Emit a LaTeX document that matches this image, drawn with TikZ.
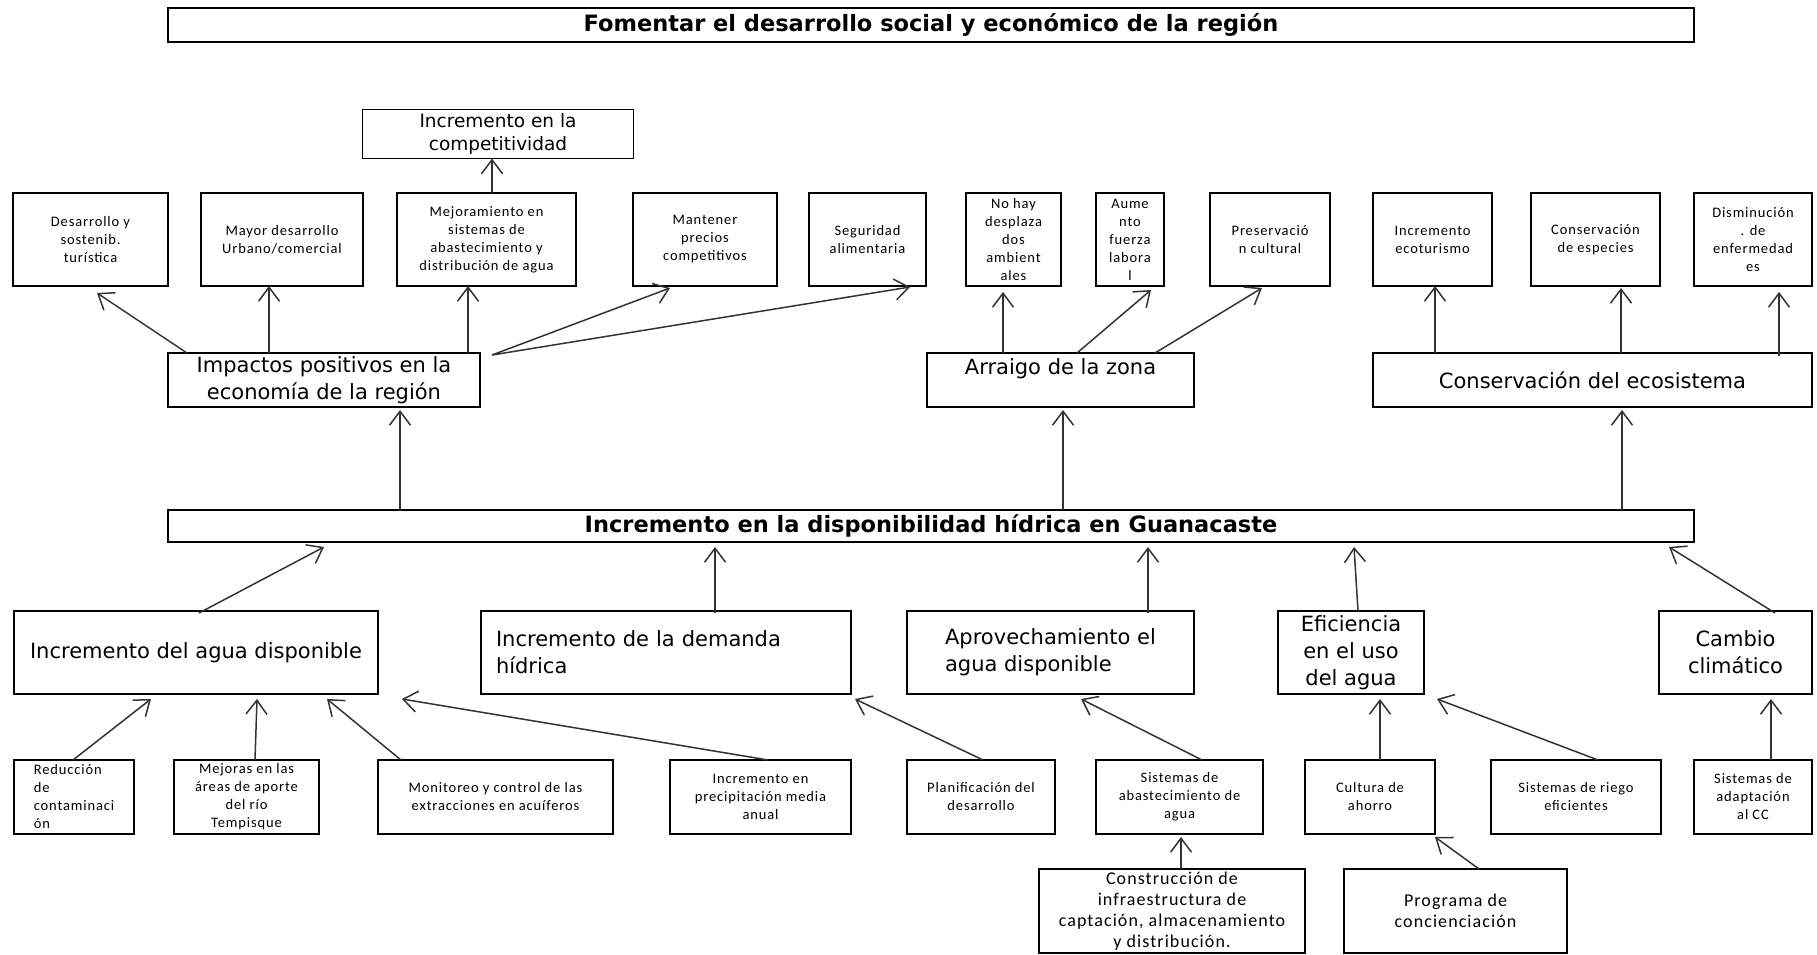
\documentclass[tikz,border=0pt]{standalone}
\usepackage{fontspec}
\setmainfont{DejaVu Sans}
\newfontfamily\chica[LetterSpace=6]{Carlito}
\usetikzlibrary{arrows.meta}

\begin{document}
\begin{tikzpicture}[x=1pt, y=-1pt,
  caja/.style={draw, line width=1.4pt, inner sep=0pt, outer sep=0pt, align=center},
  titulo/.style={caja, font=\bfseries\fontsize{22.5}{26}\selectfont, minimum width=1526pt},
  grande/.style={caja, font=\fontsize{21}{27}\selectfont},
  chica/.style={caja, font=\chica\fontsize{14.5}{18}\selectfont},
  media/.style={caja, font=\chica\fontsize{18}{21}\selectfont, minimum height=84pt},
  arriba/.style={chica, minimum height=93pt},
  abajo/.style={chica, minimum height=74pt},
  flecha/.style={draw=black!80, line width=1.5pt, -{Straight Barb[length=14pt,width=21pt]}}]
\useasboundingbox (0,0) rectangle (1817,955);

% objetivo
\node[titulo, minimum height=34pt] (fomentar) at (931,25) {Fomentar el desarrollo social y económico de la región};
\node[caja, font=\fontsize{18.5}{23}\selectfont, minimum width=271pt, minimum height=49pt] (competitividad) at (498,134) {Incremento en la\\competitividad};

% fines
\node[arriba, minimum width=155pt] (desarrollo) at (90.5,239.5) {Desarrollo y\\sostenib.\\turística};
\node[arriba, minimum width=162pt] (mayor) at (282,239.5) {Mayor desarrollo\\Urbano/comercial};
\node[arriba, minimum width=179pt] (mejoramiento) at (486.5,239.5) {Mejoramiento en\\sistemas de\\abastecimiento y\\distribución de agua};
\node[arriba, minimum width=144pt] (precios) at (705,239.5) {Mantener\\precios\\competitivos};
\node[arriba, minimum width=117pt] (seguridad) at (867.5,239.5) {Seguridad\\alimentaria};
\node[arriba, minimum width=95pt] (desplazados) at (1013.5,239.5) {No hay\\desplaza\\dos\\ambient\\ales};
\node[arriba, minimum width=68pt] (fuerza) at (1130,239.5) {Aume\\nto\\fuerza\\labora\\l};
\node[arriba, minimum width=120pt] (cultural) at (1270,239.5) {Preservació\\n cultural};
\node[arriba, minimum width=119pt] (ecoturismo) at (1432.5,239.5) {Incremento\\ecoturismo};
\node[arriba, minimum width=129pt] (especies) at (1595.5,239.5) {Conservación\\de especies};
\node[arriba, minimum width=118pt] (enfermedades) at (1753,239.5) {Disminución\\. de\\enfermedad\\es};

\node[grande, minimum width=312pt, minimum height=54pt] (impactos) at (324,380) {Impactos positivos en la\\economía de la región};
\node[grande, minimum width=267pt, minimum height=54pt] (arraigo) at (1060.5,380) {Arraigo de la zona\\\mbox{}};
\node[grande, minimum width=439pt, minimum height=54pt] (ecosistema) at (1592.5,380) {Conservación del ecosistema};

% problema central
\node[titulo, minimum height=32pt] (disponibilidad) at (931,526) {Incremento en la disponibilidad hídrica en Guanacaste};

% causas
\node[grande, minimum width=364pt, minimum height=83pt] (agua) at (196,652.5) {Incremento del agua disponible};
\node[grande, align=left, text width=340pt, inner xsep=15pt, minimum height=83pt] (demanda) at (666,652.5) {Incremento de la demanda\\hídrica};
\node[grande, align=left, minimum width=287pt, minimum height=83pt] (aprovechamiento) at (1050.5,652.5) {Aprovechamiento el\\agua disponible};
\node[grande, minimum width=146pt, minimum height=83pt] (eficiencia) at (1351,652.5) {Eficiencia\\en el uso\\del agua};
\node[grande, minimum width=153pt, minimum height=83pt] (cambio) at (1735.5,652.5) {Cambio\\climático};

\node[abajo, align=left, minimum width=120pt] (reduccion) at (74,797) {Reducción\\de\\contaminaci\\ón};
\node[abajo, minimum width=145pt] (mejoras) at (246.5,797) {Mejoras en las\\áreas de aporte\\del río\\Tempisque};
\node[abajo, minimum width=235pt] (monitoreo) at (495.5,797) {Monitoreo y control de las\\extracciones en acuíferos};
\node[abajo, minimum width=181pt] (precipitacion) at (760.5,797) {Incremento en\\precipitación media\\anual};
\node[abajo, minimum width=148pt] (planificacion) at (981,797) {Planificación del\\desarrollo};
\node[abajo, minimum width=167pt] (abastecimiento) at (1179.5,797) {Sistemas de\\abastecimiento de\\agua};
\node[abajo, minimum width=130pt] (ahorro) at (1370,797) {Cultura de\\ahorro};
\node[abajo, minimum width=170pt] (riego) at (1576,797) {Sistemas de riego\\eficientes};
\node[abajo, minimum width=118pt] (adaptacion) at (1753,797) {Sistemas de\\adaptación\\al CC};

\node[media, minimum width=266pt] (construccion) at (1172,911) {Construcción de\\infraestructura de\\captación, almacenamiento\\y distribución.};
\node[media, minimum width=223pt] (programa) at (1455.5,911) {Programa de\\concienciación};

\coordinate (inicio) at ([xshift=12pt,yshift=-2pt]impactos.north east);

% flechas hacia los fines
\draw[flecha] ([xshift=19pt]impactos.north west) -- ([xshift=6.5pt,yshift=-7pt]desarrollo.south);
\draw[flecha] ([xshift=-55pt]impactos.north) -- ([xshift=-13pt]mayor.south);
\draw[flecha] ([xshift=144pt]impactos.north) -- ([xshift=-18.5pt]mejoramiento.south);
\draw[flecha] ([xshift=5.5pt]mejoramiento.north) -- ([xshift=-6pt]competitividad.south);
\draw[flecha] (inicio) -- ([xshift=-35pt,yshift=-2pt]precios.south);
\draw[flecha] (inicio) -- ([xshift=42.5pt,yshift=-1pt]seguridad.south);
\draw[flecha] ([xshift=-57.5pt]arraigo.north) -- ([xshift=-10.5pt,yshift=-6pt]desplazados.south);
\draw[flecha] ([xshift=16.5pt]arraigo.north) -- ([xshift=21pt,yshift=-4pt]fuerza.south);
\draw[flecha] ([xshift=94.5pt]arraigo.north) -- ([xshift=-8pt,yshift=-2pt]cultural.south);
\draw[flecha] ([xshift=-157.5pt]ecosistema.north) -- ([xshift=2.5pt]ecoturismo.south);
\draw[flecha] ([xshift=28.5pt]ecosistema.north) -- ([xshift=25.5pt,yshift=-2pt]especies.south);
\draw[flecha] ([xshift=186.5pt,yshift=-3pt]ecosistema.north) -- ([xshift=26pt,yshift=-6pt]enfermedades.south);

\draw[flecha] ([xshift=-531pt]disponibilidad.north) -- ([xshift=76pt,yshift=-3pt]impactos.south);
\draw[flecha] ([xshift=132pt]disponibilidad.north) -- ([xshift=2.5pt,yshift=-3pt]arraigo.south);
\draw[flecha] ([xshift=691pt]disponibilidad.north) -- ([xshift=29.5pt,yshift=-3pt]ecosistema.south);

% flechas desde las causas
\draw[flecha] ([xshift=3pt,yshift=-2pt]agua.north) -- ([xshift=-607pt,yshift=-5pt]disponibilidad.south);
\draw[flecha] ([xshift=49pt,yshift=-2pt]demanda.north) -- ([xshift=-216pt,yshift=-5pt]disponibilidad.south);
\draw[flecha] ([xshift=97.5pt,yshift=-2pt]aprovechamiento.north) -- ([xshift=217pt,yshift=-5pt]disponibilidad.south);
\draw[flecha] ([xshift=7pt]eficiencia.north) -- ([xshift=423pt,yshift=-5pt]disponibilidad.south);
\draw[flecha] ([xshift=39.5pt,yshift=-2pt]cambio.north) -- ([xshift=738pt,yshift=-5pt]disponibilidad.south);

\draw[flecha] ([xshift=-1pt]reduccion.north) -- ([xshift=-45pt,yshift=-5pt]agua.south);
\draw[flecha] ([xshift=8.5pt]mejoras.north) -- ([xshift=61pt,yshift=-5pt]agua.south);
\draw[flecha] ([xshift=-94.5pt]monitoreo.north) -- ([xshift=131pt,yshift=-5pt]agua.south);
\draw[flecha] ([xshift=7.5pt]precipitacion.north) -- ([xshift=206pt,yshift=-5pt]agua.south);
\draw[flecha] ([xshift=2pt]planificacion.north) -- ([xshift=189pt,yshift=-5pt]demanda.south);
\draw[flecha] ([xshift=22.5pt]abastecimiento.north) -- ([xshift=30.5pt,yshift=-5pt]aprovechamiento.south);
\draw[flecha] ([xshift=10pt]ahorro.north) -- ([xshift=29pt,yshift=-5pt]eficiencia.south);
\draw[flecha] ([xshift=22pt]riego.north) -- ([xshift=86pt,yshift=-5pt]eficiencia.south);
\draw[flecha] ([xshift=18pt]adaptacion.north) -- ([xshift=35.5pt,yshift=-5pt]cambio.south);
\draw[flecha] ([xshift=9pt]construccion.north) -- ([xshift=1.5pt,yshift=-3pt]abastecimiento.south);
\draw[flecha] ([xshift=23.5pt]programa.north) -- ([xshift=65pt,yshift=-3pt]ahorro.south);
\end{tikzpicture}
\end{document}
